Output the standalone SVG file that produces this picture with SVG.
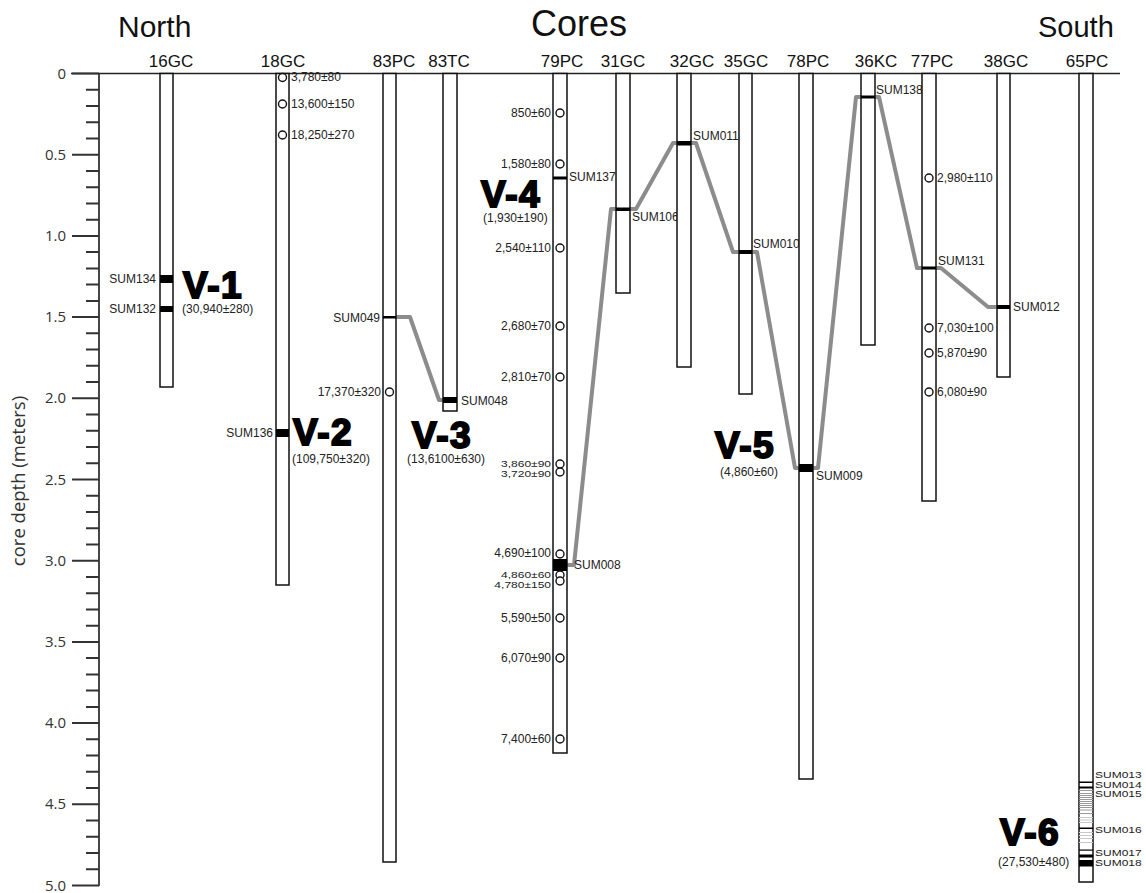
<svg xmlns="http://www.w3.org/2000/svg" width="1146" height="893" viewBox="0 0 1146 893">
<style>
.core{fill:#fff;stroke:#111;stroke-width:1.5}
.bar{fill:#000}
.dot{fill:#fff;stroke:#111;stroke-width:1.4}
.lbl{font-family:"Liberation Sans",Arial,sans-serif;font-size:12px;fill:#222}
.end{text-anchor:end}
.big{font-family:"Liberation Sans",Arial,sans-serif;font-weight:bold;font-size:37px;fill:#000;stroke:#000;stroke-width:2;letter-spacing:1.5px}
.col{font-family:"Liberation Sans",Arial,sans-serif;font-size:17px;fill:#111;text-anchor:middle}
.title{font-family:"Liberation Sans",Arial,sans-serif;fill:#111}
.corr{fill:none;stroke:#8c8c8c;stroke-width:4;stroke-linejoin:round}
.tick{font-family:"Open Sans",sans-serif;font-size:15px;fill:#333;text-anchor:end}
.g1{fill:#999}
.g2{fill:#c8c8c8}
</style>
<rect width="1146" height="893" fill="#fff"/>

<g id="titles">
<text class="title" x="118" y="37" font-size="30">North</text>
<text class="title" x="531" y="36" font-size="36">Cores</text>
<text class="title" x="1038" y="37" font-size="29">South</text>
</g>

<g id="axis">
<line x1="71" y1="73.5" x2="1120" y2="73.5" stroke="#222" stroke-width="1.6"/>
<line x1="99" y1="73.5" x2="99" y2="886" stroke="#333" stroke-width="1.8"/>
<path stroke="#333" stroke-width="2" fill="none" d="M72 73.5H99M86 89.7H99M86 106H99M86 122.2H99M86 138.5H99M72 154.7H99M86 170.9H99M86 187.2H99M86 203.4H99M86 219.7H99M72 235.9H99M86 252.1H99M86 268.4H99M86 284.6H99M86 300.9H99M72 317.1H99M86 333.3H99M86 349.6H99M86 365.8H99M86 382.1H99M72 398.3H99M86 414.5H99M86 430.8H99M86 447H99M86 463.3H99M72 479.5H99M86 495.7H99M86 512H99M86 528.2H99M86 544.5H99M72 560.7H99M86 576.9H99M86 593.2H99M86 609.4H99M86 625.7H99M72 641.9H99M86 658.1H99M86 674.4H99M86 690.6H99M86 706.9H99M72 723.1H99M86 739.3H99M86 755.6H99M86 771.8H99M86 788.1H99M72 804.3H99M86 820.5H99M86 836.8H99M86 853H99M86 869.3H99M72 885.5H99"/>
<text class="tick" x="66" y="78.5">0</text>
<text class="tick" x="66" y="159.7">0.5</text>
<text class="tick" x="66" y="240.9">1.0</text>
<text class="tick" x="66" y="322.1">1.5</text>
<text class="tick" x="66" y="403.3">2.0</text>
<text class="tick" x="66" y="484.5">2.5</text>
<text class="tick" x="66" y="565.7">3.0</text>
<text class="tick" x="66" y="646.9">3.5</text>
<text class="tick" x="66" y="728.1">4.0</text>
<text class="tick" x="66" y="809.3">4.5</text>
<text class="tick" x="66" y="890.5">5.0</text>
<text font-family="Open Sans, sans-serif" font-size="18.5" fill="#333" text-anchor="middle" transform="translate(25 481) rotate(-90)">core depth (meters)</text>
</g>

<g id="connectors">
<polyline class="corr" points="396,317 410,317 439,400 443,400"/>
<polyline class="corr" points="567,565 574,565 611,209 616,209"/>
<polyline class="corr" points="630,209 636,209 673,143 677,143"/>
<polyline class="corr" points="691,143 696,143 733,252 739,252"/>
<polyline class="corr" points="752,252 757,252 795,468 799,468"/>
<polyline class="corr" points="813,468 818,468 856,97 861,97"/>
<polyline class="corr" points="875,97 879,97 917,268 922,268"/>
<polyline class="corr" points="936,268 941,268 988,307 997,307"/>
</g>

<g id="core-16GC">
<text class="col" x="171" y="67">16GC</text>
<rect class="core" x="160" y="73.5" width="13" height="313.5"/>
<rect class="bar" x="160" y="275" width="13" height="8"/>
<rect class="bar" x="160" y="306" width="13" height="6"/>
<text class="lbl end" x="156" y="283">SUM134</text>
<text class="lbl end" x="156" y="313">SUM132</text>
<text class="big" x="183" y="298">V-1</text>
<text class="lbl" x="182" y="313">(30,940±280)</text>
</g>

<g id="core-18GC">
<text class="col" x="283" y="67">18GC</text>
<rect class="core" x="276" y="73.5" width="13" height="511.5"/>
<rect class="bar" x="276" y="429" width="13" height="8"/>
<circle class="dot" cx="282.5" cy="77.5" r="4"/>
<circle class="dot" cx="282.5" cy="104" r="4"/>
<circle class="dot" cx="282.5" cy="135" r="4"/>
<text class="lbl" x="291" y="81">3,780±80</text>
<text class="lbl" x="291" y="108">13,600±150</text>
<text class="lbl" x="291" y="139">18,250±270</text>
<text class="lbl end" x="273" y="437">SUM136</text>
<text class="big" x="293" y="445">V-2</text>
<text class="lbl" x="292" y="463">(109,750±320)</text>
</g>

<g id="core-83PC">
<text class="col" x="394" y="67">83PC</text>
<rect class="core" x="383" y="73.5" width="13" height="788.5"/>
<rect class="bar" x="383" y="316" width="13" height="2.5"/>
<circle class="dot" cx="389.5" cy="392" r="4"/>
<text class="lbl end" x="380" y="322">SUM049</text>
<text class="lbl end" x="381" y="396">17,370±320</text>
</g>

<g id="core-83TC">
<text class="col" x="449" y="67">83TC</text>
<rect class="core" x="443" y="73.5" width="14" height="337.5"/>
<rect class="bar" x="443" y="397" width="14" height="6"/>
<text class="lbl" x="461" y="405">SUM048</text>
<text class="big" x="412" y="448">V-3</text>
<text class="lbl" x="407" y="463">(13,6100±630)</text>
</g>

<g id="core-79PC">
<text class="col" x="562" y="67">79PC</text>
<rect class="core" x="553" y="73.5" width="14" height="679.5"/>
<rect class="bar" x="553" y="176.5" width="14" height="3"/>
<rect class="bar" x="553" y="559" width="14" height="12"/>
<circle class="dot" cx="560" cy="113" r="4"/>
<circle class="dot" cx="560" cy="164" r="4"/>
<circle class="dot" cx="560" cy="248" r="4"/>
<circle class="dot" cx="560" cy="326" r="4"/>
<circle class="dot" cx="560" cy="377" r="4"/>
<circle class="dot" cx="560" cy="464" r="4"/>
<circle class="dot" cx="560" cy="472" r="4"/>
<circle class="dot" cx="560" cy="554" r="4"/>
<circle class="dot" cx="560" cy="575" r="4"/>
<circle class="dot" cx="560" cy="581" r="4"/>
<circle class="dot" cx="560" cy="618" r="4"/>
<circle class="dot" cx="560" cy="658" r="4"/>
<circle class="dot" cx="560" cy="739" r="4"/>
<text class="lbl end" x="551" y="117">850±60</text>
<text class="lbl end" x="551" y="168">1,580±80</text>
<text class="lbl end" x="551" y="252">2,540±110</text>
<text class="lbl end" x="551" y="330">2,680±70</text>
<text class="lbl end" x="551" y="381">2,810±70</text>
<text class="lbl end" transform="translate(551 467) scale(1 0.82)">3,860±90</text>
<text class="lbl end" transform="translate(551 477) scale(1 0.82)">3,720±90</text>
<text class="lbl end" x="551" y="557">4,690±100</text>
<text class="lbl end" transform="translate(551 578) scale(1 0.82)">4,860±60</text>
<text class="lbl end" transform="translate(551 588) scale(1 0.82)">4,780±150</text>
<text class="lbl end" x="551" y="622">5,590±50</text>
<text class="lbl end" x="551" y="662">6,070±90</text>
<text class="lbl end" x="551" y="743">7,400±60</text>
<text class="lbl" x="569" y="181">SUM137</text>
<text class="lbl" x="574" y="569">SUM008</text>
<text class="big" x="481" y="207">V-4</text>
<text class="lbl" x="483" y="222">(1,930±190)</text>
</g>

<g id="core-31GC">
<text class="col" x="623" y="67">31GC</text>
<rect class="core" x="616" y="73.5" width="14" height="219.5"/>
<rect class="bar" x="616" y="207.5" width="14" height="3.5"/>
<text class="lbl" x="632" y="221">SUM106</text>
</g>

<g id="core-32GC">
<text class="col" x="692" y="67">32GC</text>
<rect class="core" x="677" y="73.5" width="14" height="293.5"/>
<rect class="bar" x="677" y="141" width="14" height="4.5"/>
<text class="lbl" x="693" y="140">SUM011</text>
</g>

<g id="core-35GC">
<text class="col" x="746" y="67">35GC</text>
<rect class="core" x="739" y="73.5" width="13" height="320.5"/>
<rect class="bar" x="739" y="250" width="13" height="4"/>
<text class="lbl" x="753" y="248">SUM010</text>
</g>

<g id="core-78PC">
<text class="col" x="808" y="67">78PC</text>
<rect class="core" x="799" y="73.5" width="14" height="705.5"/>
<rect class="bar" x="799" y="464" width="14" height="8"/>
<text class="lbl" x="816" y="480">SUM009</text>
<text class="big" x="715" y="458">V-5</text>
<text class="lbl" x="720" y="476">(4,860±60)</text>
</g>

<g id="core-36KC">
<text class="col" x="876" y="67">36KC</text>
<rect class="core" x="861" y="73.5" width="14" height="271.5"/>
<rect class="bar" x="861" y="95.5" width="14" height="3"/>
<text class="lbl" x="876" y="94">SUM138</text>
</g>

<g id="core-77PC">
<text class="col" x="932" y="67">77PC</text>
<rect class="core" x="922" y="73.5" width="14" height="427.5"/>
<rect class="bar" x="922" y="266.5" width="14" height="3"/>
<circle class="dot" cx="929" cy="178" r="4"/>
<circle class="dot" cx="929" cy="328" r="4"/>
<circle class="dot" cx="929" cy="353" r="4"/>
<circle class="dot" cx="929" cy="392" r="4"/>
<text class="lbl" x="937" y="182">2,980±110</text>
<text class="lbl" x="938" y="265">SUM131</text>
<text class="lbl" x="937" y="332">7,030±100</text>
<text class="lbl" x="937" y="357">5,870±90</text>
<text class="lbl" x="937" y="396">6,080±90</text>
</g>

<g id="core-38GC">
<text class="col" x="1006" y="67">38GC</text>
<rect class="core" x="997" y="73.5" width="13" height="303.5"/>
<rect class="bar" x="997" y="305" width="13" height="4"/>
<text class="lbl" x="1013" y="311">SUM012</text>
</g>

<g id="core-65PC">
<text class="col" x="1087" y="67">65PC</text>
<rect class="core" x="1079" y="73.5" width="14" height="808.5"/>
<rect class="bar" x="1079" y="781.5" width="14" height="1.5"/>
<rect class="bar" x="1079" y="786.5" width="14" height="2"/>
<rect class="g1" x="1079" y="790" width="14" height="1"/>
<rect class="g1" x="1079" y="793" width="14" height="1"/>
<rect class="g1" x="1079" y="795" width="14" height="1"/>
<rect class="g1" x="1079" y="797" width="14" height="1"/>
<rect class="g1" x="1079" y="799" width="14" height="1"/>
<rect class="g1" x="1079" y="801" width="14" height="1"/>
<rect class="g1" x="1079" y="803" width="14" height="1"/>
<rect class="g1" x="1079" y="805" width="14" height="1"/>
<rect class="g1" x="1079" y="807" width="14" height="1"/>
<rect class="g1" x="1079" y="809.5" width="14" height="1"/>
<rect class="g1" x="1079" y="813" width="14" height="1"/>
<rect class="g2" x="1079" y="817" width="14" height="1"/>
<rect class="g2" x="1079" y="819.5" width="14" height="1"/>
<rect class="g2" x="1079" y="822" width="14" height="1"/>
<rect class="bar" x="1079" y="827.5" width="14" height="1.5"/>
<rect class="g2" x="1079" y="832" width="14" height="1"/>
<rect class="g2" x="1079" y="835" width="14" height="1"/>
<rect class="g2" x="1079" y="838" width="14" height="1"/>
<rect class="g2" x="1079" y="842" width="14" height="1"/>
<rect class="bar" x="1079" y="849.5" width="14" height="1.2"/>
<rect class="bar" x="1079" y="854.5" width="14" height="3"/>
<rect class="bar" x="1079" y="860" width="14" height="6.5"/>
<text class="lbl" transform="translate(1095 778) scale(1 0.78)">SUM013</text>
<text class="lbl" transform="translate(1095 787.5) scale(1 0.78)">SUM014</text>
<text class="lbl" transform="translate(1095 797) scale(1 0.78)">SUM015</text>
<text class="lbl" transform="translate(1095 833) scale(1 0.78)">SUM016</text>
<text class="lbl" transform="translate(1095 856) scale(1 0.78)">SUM017</text>
<text class="lbl" transform="translate(1095 866) scale(1 0.78)">SUM018</text>
<text class="big" x="1000" y="845">V-6</text>
<text class="lbl" x="998" y="866">(27,530±480)</text>
</g>
</svg>
